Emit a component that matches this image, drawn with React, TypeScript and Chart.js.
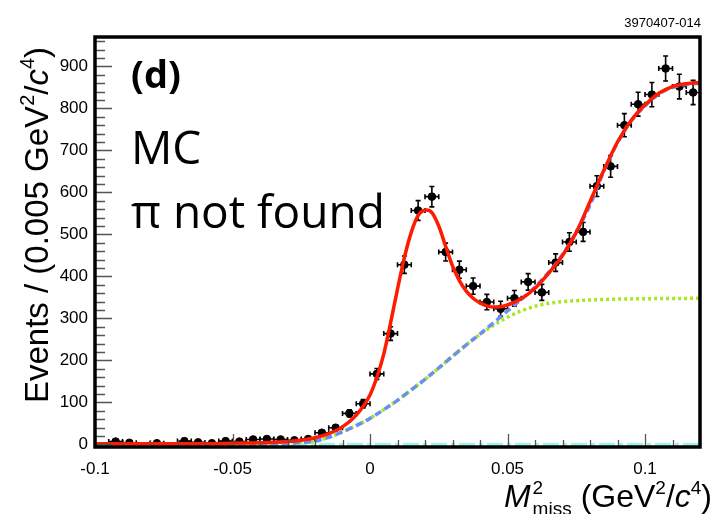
import React, { useEffect, useRef } from "react";
import { Chart, registerables } from "chart.js";

Chart.register(...registerables);

// Histogram bin centres (bin width 0.005 GeV^2/c^4)
const binCenters = [
  -0.0975, -0.0925, -0.0875, -0.0825, -0.0775, -0.0725, -0.0675, -0.0625, -0.0575, -0.0525,
  -0.0475, -0.0425, -0.0375, -0.0325, -0.0275, -0.0225, -0.0175, -0.0125, -0.0075, -0.0025,
  0.0025, 0.0075, 0.0125, 0.0175, 0.0225, 0.0275, 0.0325, 0.0375, 0.0425, 0.0475,
  0.0525, 0.0575, 0.0625, 0.0675, 0.0725, 0.0775, 0.0825, 0.0875, 0.0925, 0.0975,
  0.1025, 0.1075, 0.1125, 0.1175,
];
const binCounts: (number | null)[] = [
  null, 7, 4, null, 3, null, 8, 5, 3, 8,
  7, 12, 13, 12, 10, 13, 28, 40, 74, 97,
  168, 264, 428, 557, 590, 458, 416, 377, 339, 323,
  348, 387, 362, 433, 482, 506, 615, 662, 760, 810,
  833, 895, 852, 838,
];
const binHalfWidth = 0.0025;

// Fit curves
const totalFitX = [
  -0.1, -0.08, -0.06, -0.05, -0.04, -0.03, -0.025, -0.02, -0.015, -0.01, -0.005, 0,
  0.0025, 0.005, 0.0075, 0.01, 0.0125, 0.015, 0.0175, 0.0205, 0.0225, 0.025, 0.0275,
  0.03, 0.0325, 0.035, 0.0375, 0.04, 0.0425, 0.045, 0.0475, 0.05, 0.055, 0.06, 0.065,
  0.07, 0.075, 0.08, 0.085, 0.09, 0.095, 0.1, 0.105, 0.11, 0.115, 0.12,
];
const totalFitY = [
  2, 2, 2, 3, 4, 7, 10, 16, 26, 42, 70, 118,
  160, 215, 290, 370, 445, 505, 545, 558, 552, 520, 472,
  425, 390, 365, 348, 337, 330, 327, 328, 332, 347, 372, 408,
  450, 505, 578, 652, 720, 772, 808, 836, 852, 859, 862,
];
const bkgX = [
  -0.1, -0.05, -0.04, -0.03, -0.025, -0.02, -0.015, -0.01, -0.005, 0, 0.005, 0.01, 0.015,
  0.02, 0.025, 0.03, 0.035, 0.04, 0.045, 0.05, 0.055, 0.06, 0.065, 0.07, 0.075, 0.08,
  0.085, 0.09, 0.095, 0.1, 0.105, 0.11, 0.115, 0.12,
];
const bkgTotalY = [
  0, 0, 1, 3, 5, 8, 17, 30, 45, 62, 83, 105, 130,
  155, 182, 210, 237, 263, 290, 318, 345, 375, 410, 452, 505, 570,
  650, 718, 770, 806, 834, 850, 857, 860,
];
const bkgFlatX = [
  -0.1, -0.05, -0.04, -0.03, -0.025, -0.02, -0.015, -0.01, -0.005, 0, 0.005, 0.01, 0.015,
  0.02, 0.025, 0.03, 0.035, 0.04, 0.045, 0.05, 0.055, 0.06, 0.065, 0.07, 0.08, 0.09, 0.1, 0.12,
];
const bkgFlatY = [
  0, 0, 1, 3, 5, 8, 17, 30, 45, 62, 83, 105, 130,
  155, 182, 210, 237, 262, 284, 303, 318, 329, 336, 340, 344, 346, 347, 348,
];
const zeroLineX = [-0.1, 0.12];
const zeroLineY = [0, 0];

const xTickLabels = ["-0.1", "-0.05", "0", "0.05", "0.1"];
const xTickValues = [-0.1, -0.05, 0, 0.05, 0.1];
const yTickValues = [0, 100, 200, 300, 400, 500, 600, 700, 800, 900];

const SANS = '"Liberation Sans", Arial, Helvetica, sans-serif';
const HUMAN = '"Open Sans", "Noto Sans", sans-serif';

type Part = { t: string; font: string; dy?: number; dx?: number; noAdvance?: boolean };

function richWidth(ctx: CanvasRenderingContext2D, parts: Part[]) {
  let w = 0;
  for (const p of parts) {
    ctx.font = p.font;
    if (!p.noAdvance) w += ctx.measureText(p.t).width + (p.dx || 0);
  }
  return w;
}
function drawRich(ctx: CanvasRenderingContext2D, parts: Part[], x: number, y: number) {
  let cx = x;
  for (const p of parts) {
    ctx.font = p.font;
    ctx.fillText(p.t, cx, y + (p.dy || 0));
    if (!p.noAdvance) cx += ctx.measureText(p.t).width + (p.dx || 0);
  }
}

const decorPlugin = {
  id: "decor",
  beforeDatasetsDraw(chart: any) {
    const ctx: CanvasRenderingContext2D = chart.ctx;
    const xs = chart.scales.x;
    const ys = chart.scales.y;
    ctx.save();
    ctx.strokeStyle = "#000";
    ctx.lineWidth = 1.6;
    binCenters.forEach((c, i) => {
      const n = binCounts[i];
      if (n === null) return;
      const err = Math.sqrt(n);
      const px = xs.getPixelForValue(c);
      const py = ys.getPixelForValue(n);
      const x0 = xs.getPixelForValue(c - binHalfWidth);
      const x1 = xs.getPixelForValue(c + binHalfWidth);
      const y0 = ys.getPixelForValue(n - err);
      const y1 = ys.getPixelForValue(n + err);
      ctx.beginPath();
      ctx.moveTo(x0, py); ctx.lineTo(x1, py);
      ctx.moveTo(px, y0); ctx.lineTo(px, y1);
      ctx.moveTo(x0, py - 2.5); ctx.lineTo(x0, py + 2.5);
      ctx.moveTo(x1, py - 2.5); ctx.lineTo(x1, py + 2.5);
      ctx.moveTo(px - 2.5, y0); ctx.lineTo(px + 2.5, y0);
      ctx.moveTo(px - 2.5, y1); ctx.lineTo(px + 2.5, y1);
      ctx.stroke();
    });
    ctx.restore();
  },
  afterDraw(chart: any) {
    const ctx: CanvasRenderingContext2D = chart.ctx;
    const xs = chart.scales.x;
    const ys = chart.scales.y;
    const a = chart.chartArea;
    ctx.save();
    // ticks
    ctx.strokeStyle = "#555";
    ctx.lineWidth = 1.3;
    ctx.beginPath();
    for (let v = 0; v <= 960; v += 20) {
      const py = Math.round(ys.getPixelForValue(v)) + 0.5;
      const len = v % 100 === 0 ? 17 : 10;
      ctx.moveTo(a.left, py); ctx.lineTo(a.left + len, py);
    }
    for (let k = -10; k <= 12; k++) {
      const v = k / 100;
      const px = Math.round(xs.getPixelForValue(v)) + 0.5;
      const len = k % 5 === 0 ? 13 : 7;
      ctx.moveTo(px, a.bottom); ctx.lineTo(px, a.bottom - len);
    }
    ctx.stroke();
    // frame
    ctx.strokeStyle = "#000";
    ctx.lineWidth = 3.5;
    ctx.strokeRect(a.left, a.top, a.right - a.left, a.bottom - a.top);

    // tick labels
    ctx.fillStyle = "#000";
    ctx.font = `17px ${SANS}`;
    ctx.textAlign = "right";
    ctx.textBaseline = "middle";
    yTickValues.forEach((v) => ctx.fillText(String(v), 88, ys.getPixelForValue(v)));
    ctx.textAlign = "center";
    ctx.textBaseline = "alphabetic";
    xTickValues.forEach((v, i) => ctx.fillText(xTickLabels[i], xs.getPixelForValue(v), 474));

    // y title
    ctx.textAlign = "left";
    const F = 33;
    const yParts: Part[] = [
      { t: "Events / (0.005 GeV", font: `${F}px ${SANS}` },
      { t: "2", font: `${Math.round(F * 0.6)}px ${SANS}`, dy: -F * 0.42 },
      { t: "/", font: `${F}px ${SANS}` },
      { t: "c", font: `italic ${F}px ${SANS}` },
      { t: "4", font: `${Math.round(F * 0.6)}px ${SANS}`, dy: -F * 0.42 },
      { t: ")", font: `${F}px ${SANS}` },
    ];
    const yw = richWidth(ctx, yParts);
    ctx.save();
    ctx.translate(48, 225);
    ctx.rotate(-Math.PI / 2);
    drawRich(ctx, yParts, -yw / 2, 0);
    ctx.restore();

    // x title
    const G = 32;
    const small = `${Math.round(G * 0.6)}px ${SANS}`;
    const xParts: Part[] = [
      { t: "M", font: `italic ${G}px ${SANS}`, dx: 2 },
      { t: "2", font: small, dy: -G * 0.42, noAdvance: true },
      { t: "miss", font: small, dy: G * 0.24, dx: 9 },
      { t: "(GeV", font: `${G}px ${SANS}` },
      { t: "2", font: small, dy: -G * 0.42 },
      { t: "/", font: `${G}px ${SANS}` },
      { t: "c", font: `italic ${G}px ${SANS}` },
      { t: "4", font: small, dy: -G * 0.42 },
      { t: ")", font: `${G}px ${SANS}` },
    ];
    const xw = richWidth(ctx, xParts);
    drawRich(ctx, xParts, 712 - xw, 507);

    // annotations
    ctx.font = `bold 38px ${HUMAN}`;
    ctx.fillText("(d)", 131, 88);
    ctx.font = `46px ${HUMAN}`;
    ctx.fillText("MC", 131, 164);
    ctx.fillText("π not found", 131, 228);

    ctx.font = `13px "Liberation Sans Narrow", ${SANS}`;
    ctx.textAlign = "right";
    ctx.fillText("3970407-014", 701, 27);
    ctx.restore();
  },
};

function toXY(xs: number[], ys: number[]) {
  return xs.map((x, i) => ({ x, y: ys[i] }));
}

export default function App() {
  const ref = useRef<HTMLCanvasElement | null>(null);
  useEffect(() => {
    if (!ref.current) return;
    const pts = binCenters
      .map((x, i) => ({ x, y: binCounts[i] }))
      .filter((p) => p.y !== null);
    const chart = new Chart(ref.current, {
      type: "scatter",
      data: {
        datasets: [
          {
            type: "line",
            data: toXY(zeroLineX, zeroLineY),
            borderColor: "#9ff5ea",
            borderWidth: 3.5,
            borderDash: [16, 4, 4, 4],
            pointRadius: 0,
            order: 5,
          } as any,
          {
            type: "line",
            data: toXY(bkgFlatX, bkgFlatY),
            borderColor: "#a6e81c",
            borderWidth: 3.5,
            borderDash: [3, 3],
            pointRadius: 0,
            cubicInterpolationMode: "monotone",
            order: 4,
          } as any,
          {
            type: "line",
            data: toXY(bkgX, bkgTotalY),
            borderColor: "#6a8ff2",
            borderWidth: 3.5,
            borderDash: [7, 4],
            pointRadius: 0,
            cubicInterpolationMode: "monotone",
            order: 3,
          } as any,
          {
            type: "line",
            data: toXY(totalFitX, totalFitY),
            borderColor: "#ff1a00",
            borderWidth: 3.5,
            pointRadius: 0,
            cubicInterpolationMode: "monotone",
            order: 1,
          } as any,
          {
            type: "scatter",
            data: pts as any,
            backgroundColor: "#000",
            borderColor: "#000",
            pointRadius: 3.8,
            pointHoverRadius: 3.8,
            order: 6,
          } as any,
        ],
      },
      options: {
        animation: false,
        responsive: false,
        maintainAspectRatio: false,
        devicePixelRatio: 1,
        layout: { padding: { left: 95, top: 37, right: 18, bottom: 67 } },
        plugins: { legend: { display: false }, tooltip: { enabled: false } },
        events: [],
        scales: {
          x: { type: "linear", min: -0.1, max: 0.12, display: false },
          y: { type: "linear", min: -6, max: 970, display: false },
        },
      },
      plugins: [decorPlugin],
    });
    return () => chart.destroy();
  }, []);
  return (
    <div style={{ position: "fixed", left: 0, top: 0, width: 718, height: 514, background: "#fff" }}>
      <canvas ref={ref} width={718} height={514} style={{ width: 718, height: 514, display: "block" }} />
    </div>
  );
}
